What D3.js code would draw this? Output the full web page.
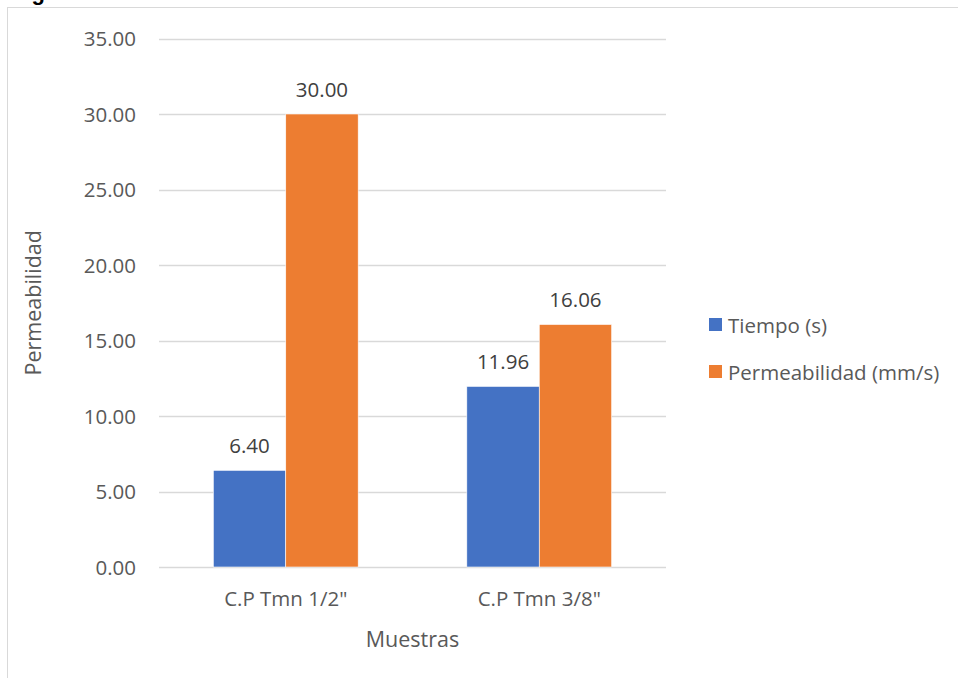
<!DOCTYPE html>
<html><head><meta charset="utf-8">
<script src="https://cdn.jsdelivr.net/npm/d3@7"></script>
<style>html,body{margin:0;padding:0;background:#fff;overflow:hidden}</style>
</head><body>
<svg id="c" width="958" height="678"></svg>
<script>
const categories = ["C.P Tmn 1/2\"", "C.P Tmn 3/8\""];
const seriesNames = ["Tiempo (s)", "Permeabilidad (mm/s)"];
const tiempo = [6.40, 11.96];
const permeabilidad = [30.00, 16.06];
const yTicks = [0, 5, 10, 15, 20, 25, 30, 35];
const colors = ["#4472C4", "#ED7D31"];
const titleText = "Figura 15. Permeabilidad de la losa";

(function () {
const svg = d3.select("#c");
const font = "'Open Sans', Lato, sans-serif";
const fs = 20.5;

// clipped title
svg.append("text").attr("x", 12).attr("y", 0)
  .attr("font-family", "'Liberation Sans', Arial, sans-serif")
  .attr("font-weight", "bold").attr("font-size", 22).attr("fill", "#000")
  .text(titleText);

// frame
svg.append("rect").attr("x", 7.5).attr("y", 7.5).attr("width", 1000).attr("height", 700)
  .attr("fill", "none").attr("stroke", "#D9D9D9").attr("stroke-width", 1);

const pLeft = 159, pRight = 666, pTop = 38.5, pBottom = 567;
const y = d3.scaleLinear().domain([0, 35]).range([pBottom, pTop]);
const x0 = d3.scaleBand().domain(categories).range([pLeft, pRight]).paddingInner(0).paddingOuter(0);
const x1 = d3.scaleBand().domain([0, 1]).range([0, x0.bandwidth()]).paddingInner(0).paddingOuter(0.75);

// gridlines
svg.append("g").selectAll("line").data(yTicks).join("line")
  .attr("x1", pLeft).attr("x2", pRight)
  .attr("y1", d => Math.round(y(d)) + 0.5).attr("y2", d => Math.round(y(d)) + 0.5)
  .attr("stroke", "#D9D9D9").attr("stroke-width", 1.3);

// y axis labels
const yAxis = d3.axisLeft(y).tickValues(yTicks).tickFormat(d3.format(".2f")).tickSize(0).tickPadding(0);
const yg = svg.append("g").attr("transform", `translate(136,0)`).call(yAxis);
yg.select(".domain").remove();
yg.selectAll("text").attr("font-family", font).attr("font-size", fs).attr("fill", "#595959").attr("dy", "0.35em");

// bars
const series = [tiempo, permeabilidad];
const groups = svg.append("g").selectAll("g").data(categories).join("g")
  .attr("transform", d => `translate(${x0(d)},0)`);
groups.each(function(cat, ci) {
  const g = d3.select(this);
  series.forEach((s, si) => {
    g.append("rect").attr("x", x1(si)).attr("width", x1.bandwidth())
      .attr("y", y(s[ci])).attr("height", y(0) - y(s[ci]))
      .attr("fill", colors[si]).attr("stroke", "#fff").attr("stroke-width", 0.6);
    g.append("text").attr("x", x1(si) + x1.bandwidth() / 2).attr("y", y(s[ci]) - 17.5)
      .attr("text-anchor", "middle").attr("font-family", font).attr("font-size", fs)
      .attr("fill", "#404040").text(d3.format(".2f")(s[ci]));
  });
});

// x axis labels
const xAxis = d3.axisBottom(x0).tickSize(0).tickPadding(0);
const xg = svg.append("g").attr("transform", `translate(0,${pBottom})`).call(xAxis);
xg.select(".domain").remove();
xg.selectAll("text").attr("font-family", font).attr("font-size", fs).attr("fill", "#595959")
  .attr("dy", null).attr("y", 39);

// axis titles
svg.append("text").attr("x", (pLeft + pRight) / 2).attr("y", 647).attr("text-anchor", "middle")
  .attr("font-family", font).attr("font-size", 21.5).attr("fill", "#595959").text("Muestras");
svg.append("text").attr("transform", `translate(41,${(pTop + pBottom) / 2}) rotate(-90)`)
  .attr("text-anchor", "middle").attr("font-family", font).attr("font-size", 21.5)
  .attr("fill", "#595959").text("Permeabilidad");

// legend
const leg = svg.append("g").selectAll("g").data(seriesNames).join("g")
  .attr("transform", (d, i) => `translate(709,${318 + i * 47})`);
leg.append("rect").attr("width", 13).attr("height", 13).attr("fill", (d, i) => colors[i]);
leg.append("text").attr("x", 19).attr("y", 14.5).attr("font-family", font).attr("font-size", fs)
  .attr("fill", "#595959").text(d => d);
})();
</script>
</body></html>
